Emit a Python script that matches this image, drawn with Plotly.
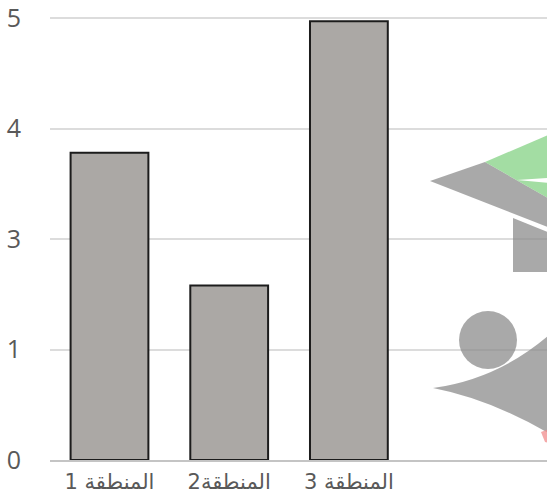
import plotly.graph_objects as go

# Data (values expressed on the chart's evenly spaced tick positions)
categories = ["المنطقة 1", "المنطقة2", "المنطقة 3"]
values = [2.78, 1.58, 3.97]
tick_positions = [0, 1, 2, 3, 4]
tick_labels = ["0", "1", "3", "4", "5"]

W, H = 547, 497
ML, MR, MT, MB = 50, 0, 0, 37
PW, PH = W - ML - MR, H - MT - MB


def px(x):
    return (x - ML) / PW


def py(y):
    return (H - MB - y) / PH


def poly(points):
    return "M " + " L ".join(f"{px(a):.4f},{py(b):.4f}" for a, b in points) + " Z"


fig = go.Figure(
    go.Bar(
        x=categories,
        y=values,
        width=0.65,
        marker=dict(color="#ABA8A5", line=dict(color="#1c1c1c", width=2)),
    )
)

wm_gray = "#8c8c8c"
wm_green = "#84d284"
shapes = []
# mortarboard gray part
shapes.append(dict(type="path", path=poly([(430, 181), (485, 162), (560, 205), (560, 232)]),
                   fillcolor=wm_gray, line=dict(width=0), opacity=0.75, xref="paper", yref="paper", layer="above"))
# green top
shapes.append(dict(type="path", path=poly([(485, 162), (560, 130), (560, 205)]),
                   fillcolor=wm_green, line=dict(width=0), opacity=0.75, xref="paper", yref="paper", layer="above"))
# white stripe in green
shapes.append(dict(type="path", path=poly([(517, 180), (560, 177), (560, 184)]),
                   fillcolor="white", line=dict(width=0), opacity=1, xref="paper", yref="paper", layer="above"))
# rectangle
shapes.append(dict(type="path", path=poly([(513, 218), (560, 237), (560, 272), (513, 272)]),
                   fillcolor=wm_gray, line=dict(width=0), opacity=0.75, xref="paper", yref="paper", layer="above"))
# circle
shapes.append(dict(type="circle", x0=px(459), x1=px(517), y0=py(369), y1=py(311),
                   fillcolor=wm_gray, line=dict(width=0), opacity=0.75, xref="paper", yref="paper", layer="above"))
# swoosh
sw = (f"M {px(433):.4f},{py(388):.4f} Q {px(505):.4f},{py(378):.4f} {px(560):.4f},{py(325):.4f} "
      f"L {px(560):.4f},{py(440):.4f} Q {px(495):.4f},{py(400):.4f} {px(433):.4f},{py(388):.4f} Z")
shapes.append(dict(type="path", path=sw, fillcolor=wm_gray, line=dict(width=0), opacity=0.75,
                   xref="paper", yref="paper", layer="above"))
# red bit
shapes.append(dict(type="path", path=poly([(541, 432), (560, 425), (560, 445), (545, 442)]),
                   fillcolor="#f08c8c", line=dict(width=0), opacity=0.75, xref="paper", yref="paper", layer="above"))

fig.update_layout(
    width=W, height=H,
    margin=dict(l=ML, r=MR, t=MT, b=MB),
    paper_bgcolor="white", plot_bgcolor="white",
    showlegend=False,
    bargap=0.35,
    font=dict(family="Open Sans, DejaVu Sans, sans-serif", color="#595959"),
    shapes=shapes,
    xaxis=dict(
        type="category",
        range=[-0.497, 3.655],
        showgrid=False,
        showline=True, linecolor="#c4c4c4", linewidth=2,
        ticks="", tickfont=dict(size=21, family="DejaVu Sans, sans-serif", color="#595959"),
        ticklabelstandoff=2,
    ),
    yaxis=dict(
        range=[0, 4.163],
        tickvals=tick_positions, ticktext=tick_labels,
        showgrid=True, gridcolor="#dcdcdc", gridwidth=1.5,
        zeroline=False, showline=False, ticks="",
        tickfont=dict(size=25, color="#595959"),
        ticklabelstandoff=28,
        ticklabeloverflow="allow",
    ),
)

fig.write_html(
    "out.html",
    config={"displayModeBar": False},
    post_script="document.body.style.margin='0';document.body.style.overflow='hidden';",
)
